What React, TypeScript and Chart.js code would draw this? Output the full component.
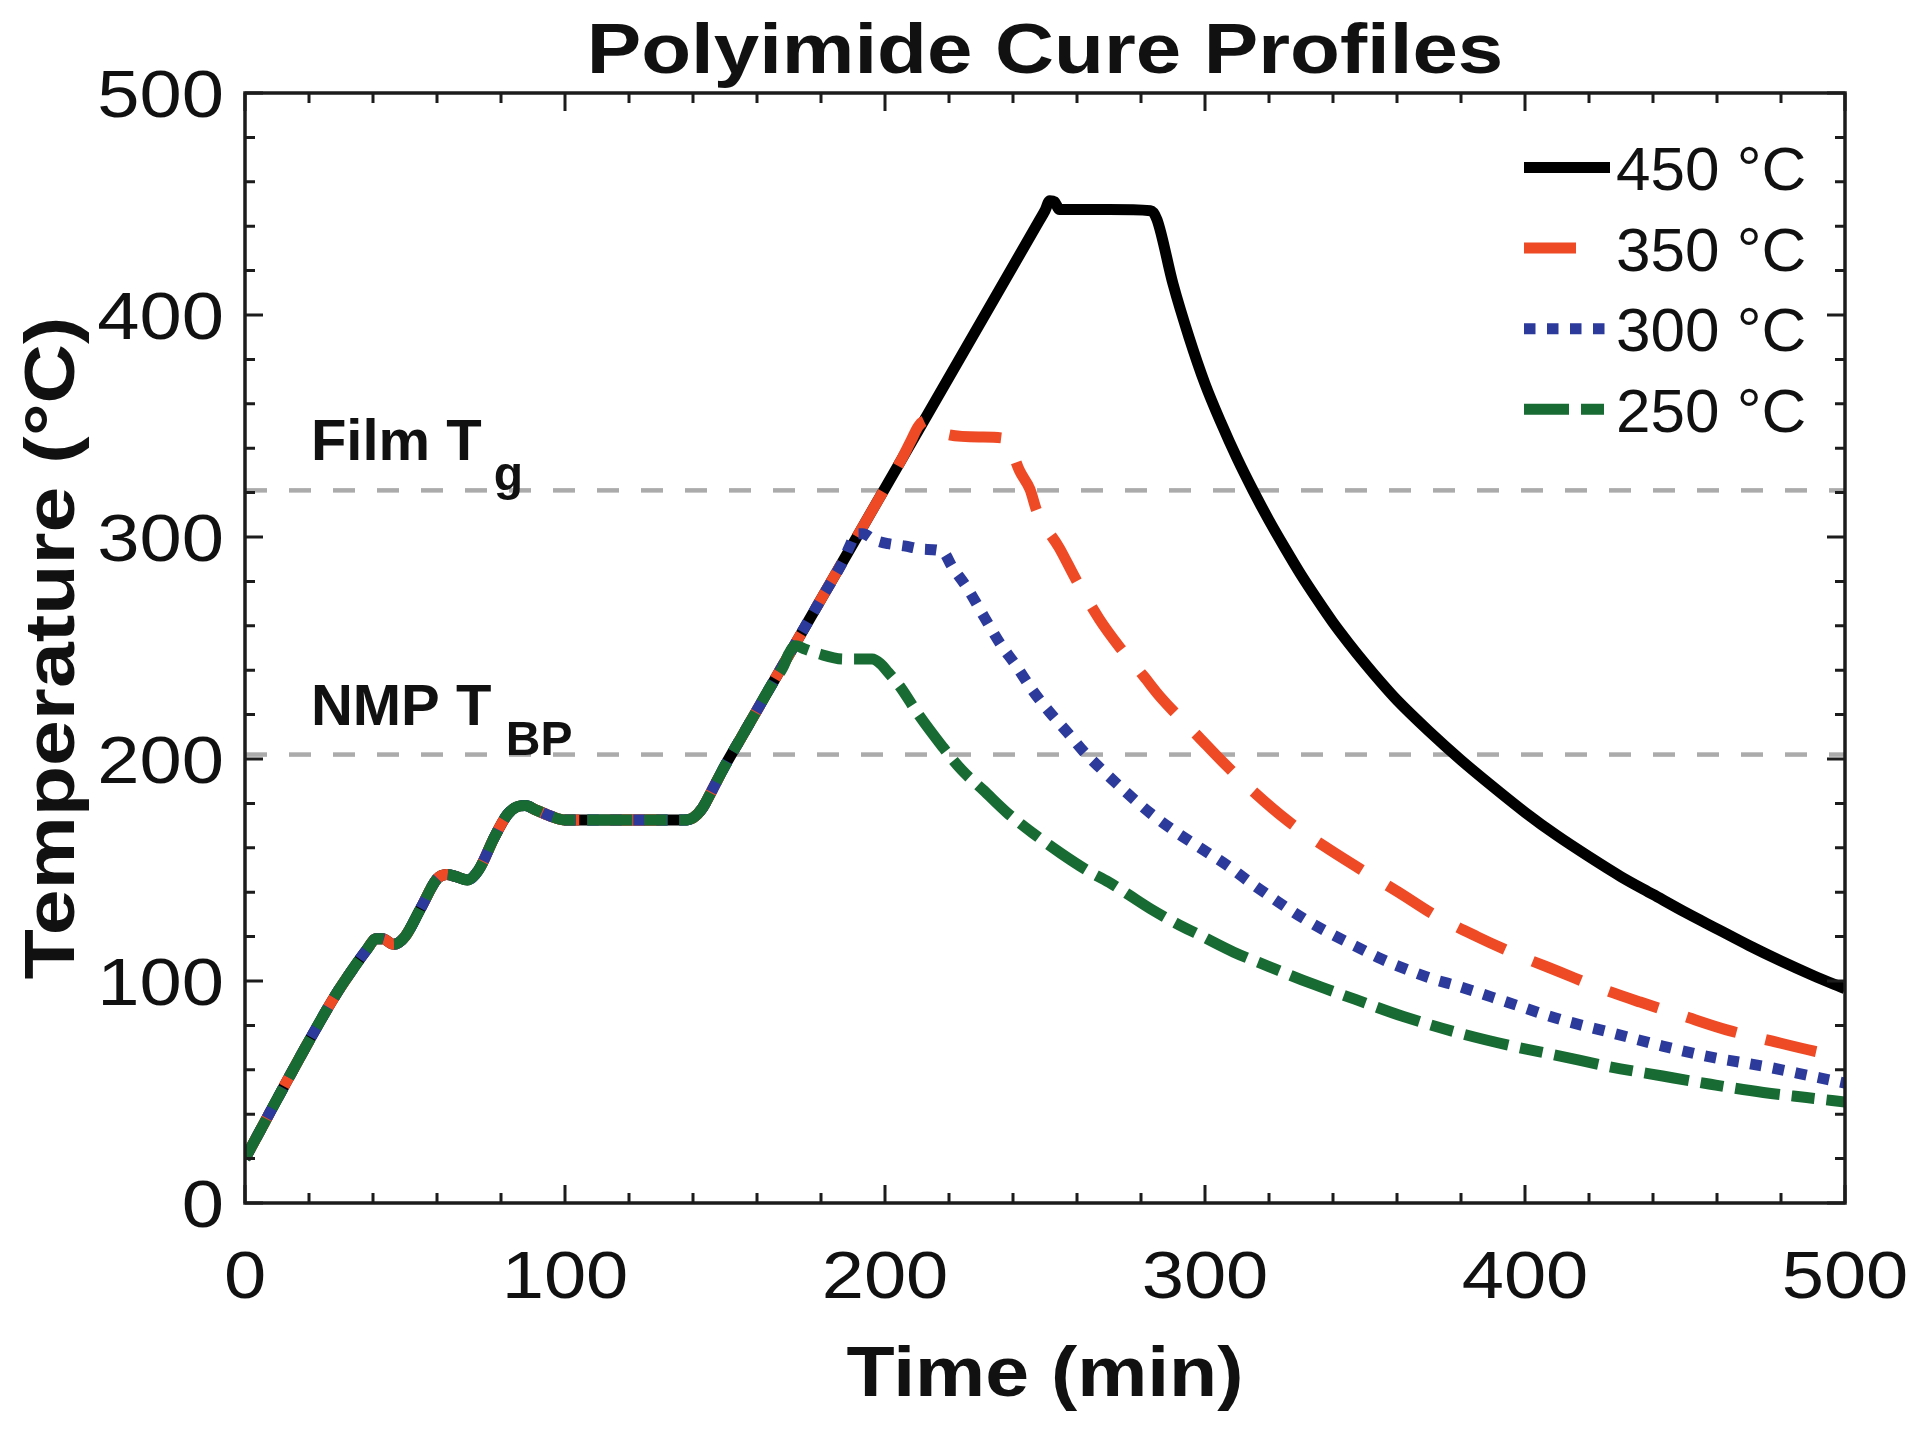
import React, { useEffect, useRef } from "react";
import { Chart, registerables } from "chart.js";

Chart.register(...registerables);

// ---------- data ----------
// shared heating segment (all four profiles)
const commonTime = [0, 6, 12, 20, 28, 34, 38, 41, 43, 46.5, 50, 55, 60, 63, 66, 69.5, 73, 78, 82, 85, 87.5, 91, 96, 100, 110, 120, 130, 137, 140, 143, 146, 150, 155, 160, 165];
const commonTemp = [20, 36, 52, 73, 93, 106, 114, 119, 119, 116.5, 120, 133, 146, 148, 147, 145.5, 150, 165, 175, 178.5, 179, 177, 174, 172.5, 172.5, 172.5, 172.5, 172.5, 173.5, 178, 186, 197, 209.5, 222, 234.5];

// 450 °C profile after the shared segment
const time450 = [170, 180, 190, 200, 210, 220, 230, 240, 248, 250, 251.5, 253, 254.5, 260, 270, 283, 285, 290, 295, 300, 305, 310, 315, 320, 325, 330, 335, 340, 345, 350, 355, 360, 370, 380, 390, 400, 410, 420, 430, 440, 450, 460, 470, 480, 490, 500];
const temp450 = [247, 272, 297, 322, 347, 372, 397, 422, 442, 447, 451.5, 451, 447.5, 447.5, 447.5, 447, 443, 414, 390, 369, 351.5, 335.5, 321, 307.5, 295, 283, 272, 261.5, 252, 243, 234.5, 226.5, 212.5, 199.5, 187.5, 176, 165.5, 156, 147, 139, 131, 123.5, 116, 109, 102.5, 96.5];

// 350 °C profile
const time350 = [170, 180, 190, 200, 205, 208, 210.5, 213, 216, 220, 230, 237, 239, 242, 245.3, 247.5, 254.5, 260, 267, 273, 281, 286, 298, 306, 315, 326, 337.5, 349, 360.5, 372, 385, 398, 411, 423, 436, 450, 463, 477, 490, 500];
const temp350 = [247, 272, 297, 322, 334.5, 343, 350, 352.5, 349.5, 346, 345, 344.5, 341, 330, 321.5, 311.5, 295, 280, 263, 251, 237, 228, 210, 198, 185.5, 172, 160.5, 150, 140, 129.5, 120, 111.5, 104, 97, 90.5, 84, 78, 73, 68.5, 65.5];

// 300 °C profile
const time300 = [170, 180, 187, 189, 191, 193, 197, 201, 206, 212, 218, 221, 225.5, 231, 236, 241, 246.3, 251.5, 257, 262, 267.2, 275, 283, 291, 299, 307, 314, 323, 331, 339, 347, 355, 363, 371, 379, 395, 411, 427, 443, 459, 475, 490, 500];
const temp300 = [247, 272, 289.5, 296, 301.5, 301.5, 298.5, 297, 296, 294.5, 293.5, 286.5, 277.5, 264, 252, 242, 230.5, 221, 212, 203.5, 196, 185.5, 175.5, 167, 159.5, 152, 144.5, 135.5, 128, 121.5, 115.7, 110, 105.2, 101, 97.7, 90.2, 82.7, 76.7, 70.7, 65.5, 61.5, 57, 54];

// 250 °C profile
const time250 = [168, 170, 172, 175, 179, 187, 196, 198.5, 201, 205, 210, 218, 224, 230.7, 238, 246.3, 255, 263, 270, 276, 283, 291, 299, 309, 320, 333, 347, 362, 379, 395, 411, 426, 443, 458, 474.5, 488, 500];
const temp250 = [241, 247.5, 251, 249.5, 247.5, 245, 245, 243, 239, 232, 221, 205.5, 195, 186, 176, 166.5, 157.5, 150, 144.5, 139, 132.5, 126, 120.2, 113, 106.5, 99, 91.7, 84, 76.7, 71, 66.2, 61.5, 57.2, 53.5, 49.8, 47.5, 45.5];

const seriesLabels = ["450 °C", "350 °C", "300 °C", "250 °C"];

// reference levels (Film Tg, NMP boiling point)
const refLevels = [321, 202];

// axes
const xTicks = [0, 100, 200, 300, 400, 500];
const yTicks = [0, 100, 200, 300, 400, 500];
const minorStep = 20;

// ---------- styling ----------
const FONT = '"Liberation Sans", Arial, Helvetica, sans-serif';
const BLACK = "#000000";
const RED = "#EE4A26";
const BLUE = "#2C3A9C";
const GREEN = "#176B33";
const GRAY = "#ABABAB";
const AXIS = "#1C1C1C";

const LINE_W = 11;
const DASH_RED = [52, 30];
const DASH_BLUE = [11.5, 11.5];
const DASH_GREEN = [45, 12, 23, 12];

function buildSeries(tt: number[], TT: number[]) {
  const pts = commonTime.map((t, i) => ({ x: t, y: commonTemp[i] }));
  return pts.concat(tt.map((t, i) => ({ x: t, y: TT[i] })));
}

function drawText(
  ctx: CanvasRenderingContext2D,
  text: string,
  x: number,
  y: number,
  font: string,
  align: "left" | "center" | "right",
  stretch: number
) {
  ctx.save();
  ctx.font = font;
  const w = ctx.measureText(text).width * stretch;
  let left = x;
  if (align === "center") left = x - w / 2;
  else if (align === "right") left = x - w;
  ctx.translate(left, y);
  ctx.scale(stretch, 1);
  ctx.textAlign = "left";
  ctx.textBaseline = "alphabetic";
  ctx.fillStyle = "#111111";
  ctx.fillText(text, 0, 0);
  ctx.restore();
}

const decorPlugin = {
  id: "decor",
  beforeDatasetsDraw(chart: any) {
    const { ctx, chartArea } = chart;
    const ys = chart.scales.y;
    ctx.save();
    ctx.strokeStyle = GRAY;
    ctx.lineWidth = 4.5;
    ctx.setLineDash([22, 22]);
    for (const v of refLevels) {
      const py = ys.getPixelForValue(v);
      ctx.beginPath();
      ctx.moveTo(chartArea.left, py);
      ctx.lineTo(chartArea.right, py);
      ctx.stroke();
    }
    ctx.restore();
  },
  afterDraw(chart: any) {
    const { ctx, chartArea } = chart;
    const xs = chart.scales.x;
    const ys = chart.scales.y;
    const { left, right, top, bottom } = chartArea;

    // frame
    ctx.save();
    ctx.strokeStyle = AXIS;
    ctx.lineWidth = 3.5;
    ctx.setLineDash([]);
    ctx.strokeRect(left, top, right - left, bottom - top);

    // ticks, inward, all four sides
    ctx.lineWidth = 3;
    for (let v = xs.min; v <= xs.max; v += minorStep) {
      const len = xTicks.includes(v) ? 18 : 10;
      const px = xs.getPixelForValue(v);
      ctx.beginPath();
      ctx.moveTo(px, bottom);
      ctx.lineTo(px, bottom - len);
      ctx.moveTo(px, top);
      ctx.lineTo(px, top + len);
      ctx.stroke();
    }
    for (let v = ys.min; v <= ys.max; v += minorStep) {
      const len = yTicks.includes(v) ? 18 : 10;
      const py = ys.getPixelForValue(v);
      ctx.beginPath();
      ctx.moveTo(left, py);
      ctx.lineTo(left + len, py);
      ctx.moveTo(right, py);
      ctx.lineTo(right - len, py);
      ctx.stroke();
    }
    ctx.restore();

    // tick labels
    const tickFont = `66px ${FONT}`;
    for (const v of yTicks) {
      const py = ys.getPixelForValue(v);
      drawText(ctx, String(v), left - 21, py + 0.716 * 66 / 2, tickFont, "right", 1.15);
    }
    for (const v of xTicks) {
      const px = xs.getPixelForValue(v);
      drawText(ctx, String(v), px, 1298, tickFont, "center", 1.15);
    }

    // titles
    const cx = (left + right) / 2;
    drawText(ctx, "Polyimide Cure Profiles", cx, 73, `bold 71px ${FONT}`, "center", 1.15);
    drawText(ctx, "Time (min)", cx, 1396, `bold 71px ${FONT}`, "center", 1.11);
    ctx.save();
    ctx.translate(74, (top + bottom) / 2);
    ctx.rotate(-Math.PI / 2);
    drawText(ctx, "Temperature (°C)", 0, 0, `bold 71px ${FONT}`, "center", 1.16);
    ctx.restore();

    // annotations near the reference levels
    const annMain = `bold 58px ${FONT}`;
    const annSub = `bold 48px ${FONT}`;
    drawText(ctx, "Film T", xs.getPixelForValue(20.6), ys.getPixelForValue(334.7), annMain, "left", 1);
    drawText(ctx, "g", xs.getPixelForValue(77.7), ys.getPixelForValue(321.2), annSub, "left", 1);
    drawText(ctx, "NMP T", xs.getPixelForValue(20.6), ys.getPixelForValue(215.3), annMain, "left", 1);
    drawText(ctx, "BP", xs.getPixelForValue(81.5), ys.getPixelForValue(201.8), annSub, "left", 1);

    // legend (inside, top right)
    const dsets = chart.data.datasets;
    for (let i = 0; i < dsets.length; i++) {
      const ds = dsets[i];
      const yc = 167.5 + i * 80.6;
      ctx.save();
      ctx.strokeStyle = ds.borderColor;
      ctx.lineWidth = LINE_W;
      ctx.lineCap = "butt";
      ctx.setLineDash(ds.borderDash || []);
      ctx.beginPath();
      ctx.moveTo(1524, yc);
      ctx.lineTo(i === 0 ? 1610 : i === 1 ? 1598 : 1606, yc);
      ctx.stroke();
      ctx.restore();
      drawText(ctx, ds.label, 1616, yc + 22.5, `62px ${FONT}`, "left", 1.0);
    }
  },
};

export default function App() {
  const ref = useRef<HTMLCanvasElement | null>(null);

  useEffect(() => {
    if (!ref.current) return;
    const common = {
      pointRadius: 0,
      borderWidth: LINE_W,
      fill: false,
      cubicInterpolationMode: "monotone" as const,
      borderCapStyle: "butt" as const,
      borderJoinStyle: "round" as const,
    };
    const chart = new Chart(ref.current, {
      type: "line",
      data: {
        datasets: [
          { ...common, label: seriesLabels[0], data: buildSeries(time450, temp450), borderColor: BLACK, borderDash: [], order: 3 },
          { ...common, label: seriesLabels[1], data: buildSeries(time350, temp350), borderColor: RED, borderDash: DASH_RED, order: 2 },
          { ...common, label: seriesLabels[2], data: buildSeries(time300, temp300), borderColor: BLUE, borderDash: DASH_BLUE, order: 1 },
          { ...common, label: seriesLabels[3], data: buildSeries(time250, temp250), borderColor: GREEN, borderDash: DASH_GREEN, order: 0 },
        ],
      },
      options: {
        animation: false,
        responsive: false,
        maintainAspectRatio: false,
        devicePixelRatio: 1,
        layout: { padding: { left: 245, right: 75, top: 93, bottom: 231 } },
        plugins: {
          legend: { display: false },
          title: { display: false },
          tooltip: { enabled: false },
        },
        scales: {
          x: { type: "linear", min: 0, max: 500, display: false },
          y: { type: "linear", min: 0, max: 500, display: false },
        },
      },
      plugins: [decorPlugin],
    });
    return () => chart.destroy();
  }, []);

  return (
    <div style={{ position: "fixed", left: 0, top: 0, width: 1920, height: 1434, background: "#ffffff" }}>
      <canvas ref={ref} width={1920} height={1434} style={{ display: "block", width: 1920, height: 1434 }} />
    </div>
  );
}
